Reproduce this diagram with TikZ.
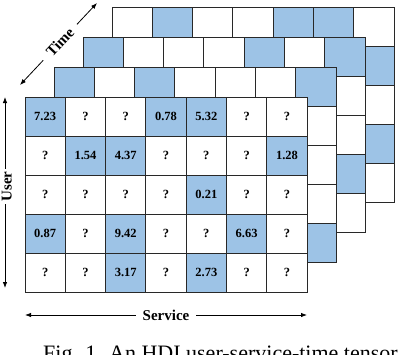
\documentclass[tikz,border=0pt]{standalone}
\usepackage{fontspec}
\setmainfont{Liberation Serif}
\definecolor{cellblue}{RGB}{157,195,230}
\definecolor{gridgray}{RGB}{40,40,40}
\usetikzlibrary{arrows.meta}

\begin{document}
\begin{tikzpicture}[x=1pt,y=-1pt,>={Latex[length=6pt,width=4.5pt]},
  cell/.style={draw=gridgray,line width=0.9pt,fill=white,inner sep=0pt,
               minimum width=40.3pt,minimum height=39pt,
               font=\fontsize{12.5}{12.5}\selectfont\bfseries},
  hit/.style={cell,fill=cellblue},
  axislabel/.style={fill=white,inner xsep=7pt,inner ysep=1pt,
                    font=\fontsize{15}{15}\selectfont\bfseries}]
  \clip (0,0) rectangle (398,354);
  %% Hidden time slices, back to front
  \foreach \k/\blue in {3/{1/2,1/5,1/6,2/7,4/7},
                        2/{1/1,1/5,1/7,4/7},
                        1/{1/1,1/3,1/7,5/7}} {
    \foreach \r in {1,...,5}
      \foreach \c in {1,...,7}
        \node[cell] (s\k-\r-\c) at (4.85+29*\k+40.3*\c, 77.5-30*\k+39*\r) {};
    \foreach \r/\c in \blue
      \node[hit] (b\k-\r-\c) at (4.85+29*\k+40.3*\c, 77.5-30*\k+39*\r) {};
  }
  %% Front slice with the observed entries
  \foreach \s/\v [count=\n from 0] in {
      hit/7.23,cell/?,cell/?,hit/0.78,hit/5.32,cell/?,cell/?,
      cell/?,hit/1.54,hit/4.37,cell/?,cell/?,cell/?,hit/1.28,
      cell/?,cell/?,cell/?,cell/?,hit/0.21,cell/?,cell/?,
      hit/0.87,cell/?,hit/9.42,cell/?,cell/?,hit/6.63,cell/?,
      cell/?,cell/?,hit/3.17,cell/?,hit/2.73,cell/?,cell/?} {
    \pgfmathtruncatemacro\r{int(\n/7)+1}
    \pgfmathtruncatemacro\c{mod(\n,7)+1}
    \node[\s] (f-\r-\c) at (4.85+40.3*\c, 77.5+39*\r) {\v};
  }
  %% Axes
  \coordinate (t0) at (20,85);
  \coordinate (t1) at (97,3);
  \coordinate (u0) at (5,97);
  \coordinate (u1) at (5,288);
  \coordinate (v0) at (25,315);
  \coordinate (v1) at (307,315);
  \draw[<->,line width=0.8pt] (t0) -- (t1) node[axislabel,inner xsep=8pt,pos=0.52,sloped] (time) {Time};
  \draw[<->,line width=0.8pt] (u1) -- (u0);
  \node[axislabel,inner xsep=3pt,rotate=90] (user) at (6.8,186.5) {User};
  \draw[<->,line width=0.8pt] (v0) -- (v1) node[axislabel,midway] (service) {Service};
  %% Caption
  \node[anchor=base west,inner sep=0pt,font=\fontsize{22}{22}\selectfont]
       (caption) at (43,360.6) {Fig. 1. An HDI user-service-time tensor};
\end{tikzpicture}
\end{document}
